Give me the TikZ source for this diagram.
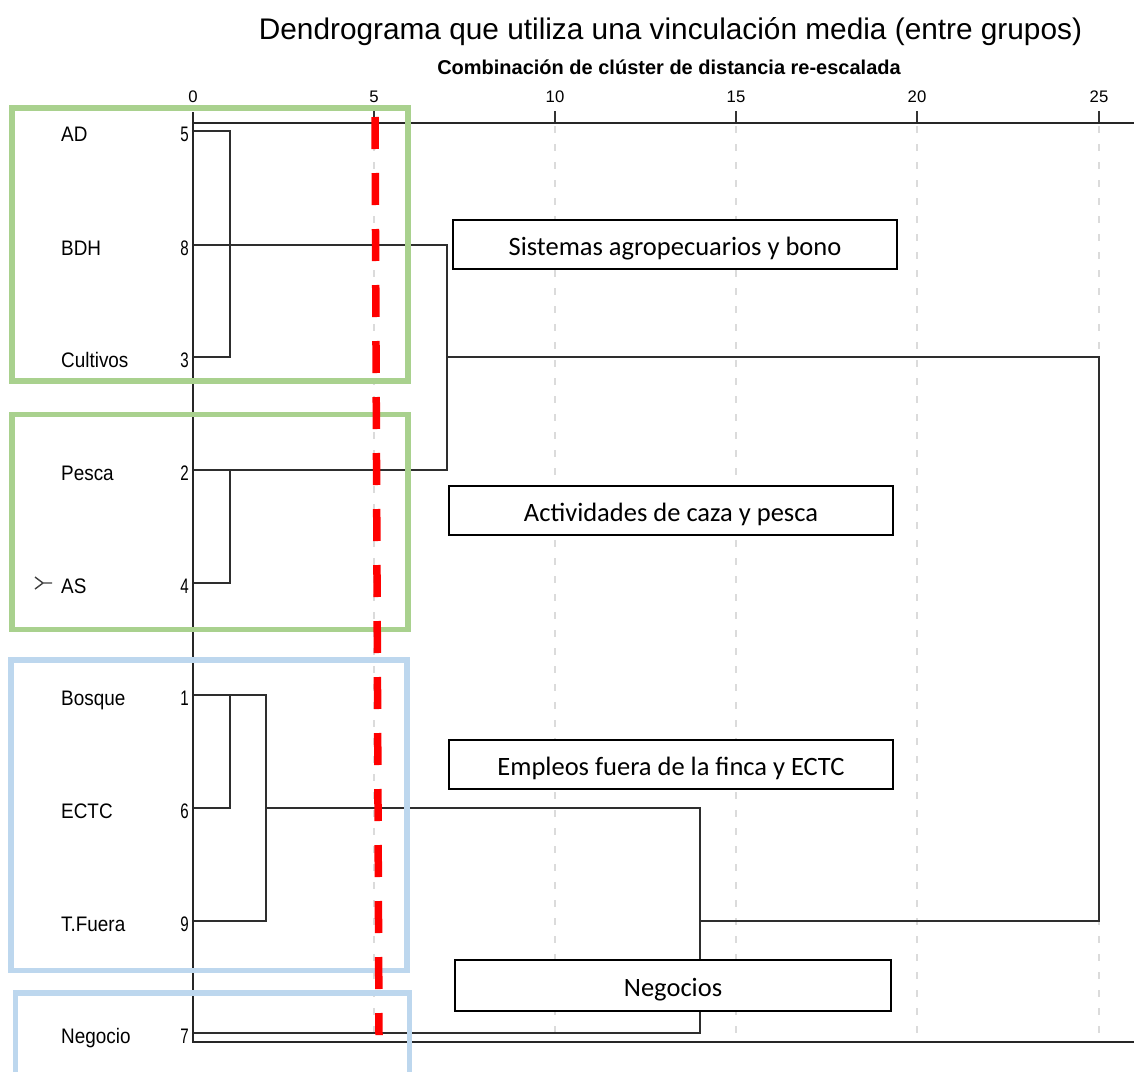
\documentclass[tikz,border=0pt]{standalone}
\usepackage{fontspec}
\setmainfont{Liberation Sans}
\newfontfamily\calfont{Carlito}
\usepackage{graphicx}
\definecolor{grn}{HTML}{A9D18E}
\definecolor{blu}{HTML}{BDD7EE}
\newcommand{\nmw}[1]{\scalebox{0.9}[1]{#1}}
\newcommand{\ndg}[1]{\scalebox{0.72}[1]{#1}}
\begin{document}
\begin{tikzpicture}[x=1pt,y=-1pt,line join=miter,
  dend/.style={line width=1.9pt, draw=black!82},
  gridln/.style={line width=2.2pt, draw=black!14, dash pattern=on 7pt off 11pt},
  frameln/.style={line width=2.4pt, draw=black!85},
  grpgreen/.style={line width=5.5pt, draw=grn},
  grpblue/.style={line width=5.5pt, draw=blu},
  cutline/.style={line width=7.5pt, draw=red, dash pattern=on 32pt off 24pt},
  lbl/.style={inner sep=0pt, anchor=base west, font=\fontsize{21}{24}\selectfont},
  num/.style={inner sep=0pt, anchor=base east, font=\fontsize{21}{24}\selectfont},
  axnum/.style={inner sep=0pt, anchor=base, font=\fontsize{16.7}{20}\selectfont},
  tag/.style={draw=black, line width=1.2pt, fill=white, minimum width=444pt, minimum height=49pt, inner sep=0pt, text height=21pt, text depth=0pt, font=\calfont\fontsize{26.5}{31}\selectfont}
]
\useasboundingbox (0,0) rectangle (1134,1071);
\clip (0,0) rectangle (1134,1071);

% titles
\node[inner sep=0pt, anchor=base, font=\fontsize{29.8}{34}\selectfont] (title) at (670.5,39.5) {Dendrograma que utiliza una vinculación media (entre grupos)};
\node[inner sep=0pt, anchor=base, font=\bfseries\fontsize{20}{23}\selectfont] (subtitle) at (669,74) {Combinación de clúster de distancia re-escalada};

% axis numbers
\node[axnum] (a0) at (193,102) {0};
\node[axnum] (a5) at (374,102) {5};
\node[axnum] (a10) at (555,102) {10};
\node[axnum] (a15) at (736,102) {15};
\node[axnum] (a20) at (917,102) {20};
\node[axnum] (a25) at (1099,102) {25};

% gridlines
\foreach \gx in {374,555,736,917,1099}{
  \draw[gridln] (\gx,126) -- (\gx,1040);
  \draw[line width=2pt, black!80] (\gx,111) -- (\gx,123);
}

% leaf coordinates
\coordinate (pAD) at (193,131);
\coordinate (pBDH) at (193,245);
\coordinate (pCul) at (193,357);
\coordinate (pPes) at (193,470);
\coordinate (pAS) at (193,583);
\coordinate (pBos) at (193,695);
\coordinate (pECTC) at (193,808);
\coordinate (pTF) at (193,921);
\coordinate (pNeg) at (193,1033);
\coordinate (x1) at (230,0);
\coordinate (x2) at (266,0);
\coordinate (x3) at (447,0);
\coordinate (x4) at (700,0);
\coordinate (x5) at (1099,0);

% leaf labels
\node[lbl] (nAD) at (61,141.5) {\nmw{AD}};
\node[lbl] (nBDH) at (61,255.5) {\nmw{BDH}};
\node[lbl] (nCul) at (61,367.5) {\nmw{Cultivos}};
\node[lbl] (nPes) at (61,480.5) {\nmw{Pesca}};
\node[lbl] (nAS) at (61,593.5) {\nmw{AS}};
\node[lbl] (nBos) at (61,705.5) {\nmw{Bosque}};
\node[lbl] (nECTC) at (61,818.5) {\nmw{ECTC}};
\node[lbl] (nTF) at (61,931.5) {\nmw{T.Fuera}};
\node[lbl] (nNeg) at (61,1043.5) {\nmw{Negocio}};
\node[num] (iAD) at (189,141.5) {\ndg{5}};
\node[num] (iBDH) at (189,255.5) {\ndg{8}};
\node[num] (iCul) at (189,367.5) {\ndg{3}};
\node[num] (iPes) at (189,480.5) {\ndg{2}};
\node[num] (iAS) at (189,593.5) {\ndg{4}};
\node[num] (iBos) at (189,705.5) {\ndg{1}};
\node[num] (iECTC) at (189,818.5) {\ndg{6}};
\node[num] (iTF) at (189,931.5) {\ndg{9}};
\node[num] (iNeg) at (189,1043.5) {\ndg{7}};

% marker
\draw[line width=1.4pt, black!75] (35,577) -- (43,583) -- (35,589) (43,583) -- (52,583);

% dendrogram
\draw[dend] (pAD) -- (pAD -| x1) -- (pCul -| x1) -- (pCul);
\draw[dend] (pBDH) -- (pBDH -| x3) -- (pPes -| x3) -- (pPes);
\draw[dend] (pPes -| x1) -- (pAS -| x1) -- (pAS);
\draw[dend] (pCul -| x3) -- (pCul -| x5) -- (pTF -| x5) -- (pTF -| x4);
\draw[dend] (pBos) -- (pBos -| x2) -- (pTF -| x2) -- (pTF);
\draw[dend] (pBos -| x1) -- (pECTC -| x1) -- (pECTC);
\draw[dend] (pECTC -| x2) -- (pECTC -| x4) -- (pNeg -| x4) -- (pNeg);

% frame
\draw[frameln] (193,112) -- (193,1042) -- (1136,1042);
\draw[frameln] (193,123) -- (1136,123);

% group boxes
\draw[grpgreen] (12,108) rectangle (408,381);
\draw[grpgreen] (12,414.5) rectangle (408,629.5);
\draw[grpblue] (11,660) rectangle (407,970.5);
\draw[grpblue] (15.5,1085) -- (15.5,993) -- (409.5,993) -- (409.5,1085);

% tags
\node[tag] (t1) at (675,244.5) {Sistemas agropecuarios y bono};
\node[tag] (t2) at (671,510.5) {Actividades de caza y pesca};
\node[tag] (t3) at (671,764.5) {Empleos fuera de la finca y ECTC};
\node[tag, minimum width=436pt, minimum height=51pt] (t4) at (673,985.5) {Negocios};

% cut line
\coordinate (cutTop) at (375,117);
\coordinate (cutBot) at (379,1035);
\draw[cutline] (cutTop) -- (cutBot);
\end{tikzpicture}
\end{document}
